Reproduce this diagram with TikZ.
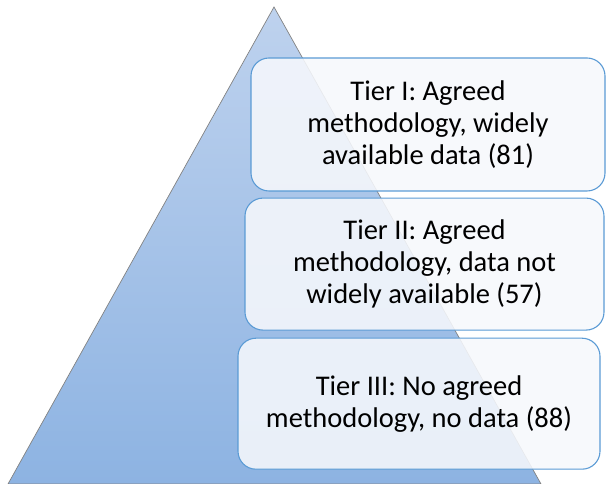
\documentclass[tikz,border=0pt]{standalone}
\usepackage{fontspec}
\setmainfont{Carlito}
\usepackage{tikz}
\usetikzlibrary{positioning}
\usepackage{xcolor}
\definecolor{tierline}{RGB}{91,155,213}
\definecolor{tierfill}{RGB}{246,248,252}
\definecolor{pyrtop}{RGB}{190,210,238}
\definecolor{pyrbot}{RGB}{141,179,226}
\definecolor{pyrline}{RGB}{130,130,130}

\begin{document}
\begin{tikzpicture}[
  x=1pt, y=1pt,
  pyramid/.style={top color=pyrtop, bottom color=pyrbot, draw=pyrline, line width=0.7pt},
  tierbox/.style={rectangle, draw=tierline, line width=1.1pt, rounded corners=18pt, fill=tierfill, fill opacity=0.88, text opacity=1, align=center, inner sep=0pt, font=\fontsize{28.5}{32}\selectfont}
]
\useasboundingbox (0,0) rectangle (606,484);
\shadedraw[pyramid] (8,0) -- (274,477) -- (541,0) -- cycle;
\node[tierbox, minimum width=354pt, minimum height=133pt] (t1) at (428,359.5) {Tier I: Agreed\\methodology, widely\\available data (81)};
\node[tierbox, minimum width=359pt, minimum height=132pt, below=6pt of t1, xshift=-3.5pt] (t2) {Tier II: Agreed\\methodology, data not\\widely available (57)};
\node[tierbox, minimum width=362pt, minimum height=131pt, below=7pt of t2, xshift=-5.5pt] (t3) {Tier III: No agreed\\methodology, no data (88)};
\end{tikzpicture}
\end{document}
